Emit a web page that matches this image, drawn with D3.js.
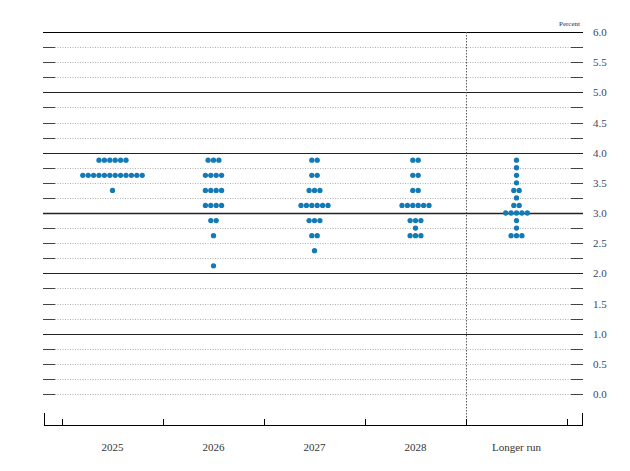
<!DOCTYPE html>
<meta charset="utf-8">
<style>
    body { margin: 0; background: #fff; }
    text { font-family: "Liberation Serif", "Times New Roman", serif; }
</style>
<svg width="630" height="471"></svg>
<script src="https://d3js.org/d3.v7.min.js"></script>
<script>

    // each entry: [midpoint of target range, number of participants]
    var categories = ["2025", "2026", "2027", "2028", "Longer run"];
    var dots2025 = [[3.875, 6], [3.625, 12], [3.375, 1]];
    var dots2026 = [[3.875, 3], [3.625, 4], [3.375, 4], [3.125, 4], [2.875, 2], [2.625, 1], [2.125, 1]];
    var dots2027 = [[3.875, 2], [3.625, 2], [3.375, 3], [3.125, 6], [2.875, 3], [2.625, 2], [2.375, 1]];
    var dots2028 = [[3.875, 2], [3.625, 2], [3.375, 2], [3.125, 6], [2.875, 3], [2.75, 1], [2.625, 3]];
    var dotsLonger = [[3.875, 1], [3.75, 1], [3.625, 1], [3.5, 1], [3.375, 2], [3.25, 1], [3.125, 2], [3.0, 5], [2.875, 1], [2.75, 1], [2.625, 3]];
    var yTicks = d3.range(0, 6.01, 0.5);
    var gridLevels = d3.range(0, 6.01, 0.25);

    var svg = d3.select("svg");
    var left = 43, right = 583, axisY = 425;

    var y = d3.scaleLinear().domain([0, 6]).range([394, 32]);
    var x = d3.scaleBand().domain(categories).range([62, 567]);

    var series = [dots2025, dots2026, dots2027, dots2028, dotsLonger];

    // horizontal grid
    var grid = svg.append("g");
    gridLevels.forEach(function (v) {
        var yy = Math.round(y(v)) + 0.5;
        var solid = Math.abs(v - Math.round(v)) < 1e-9 && v >= 1;
        if (solid) {
            grid.append("line")
                .attr("x1", left).attr("x2", right)
                .attr("y1", yy).attr("y2", yy)
                .attr("stroke", v === 6 ? "#000" : "#222")
                .attr("stroke-width", v === 3 ? 1.4 : 1);
        } else {
            grid.append("line")
                .attr("x1", left + 12).attr("x2", right - 12)
                .attr("y1", yy).attr("y2", yy)
                .attr("stroke", "#b0b0b0")
                .attr("stroke-dasharray", "1,1.5");
            grid.append("line")
                .attr("x1", left).attr("x2", left + 12)
                .attr("y1", yy).attr("y2", yy)
                .attr("stroke", "#444");
            grid.append("line")
                .attr("x1", right - 12).attr("x2", right)
                .attr("y1", yy).attr("y2", yy)
                .attr("stroke", "#444");
        }
    });

    // separator before longer run
    var sepX = Math.round(x("Longer run")) + 0.5;
    svg.append("line")
        .attr("x1", sepX).attr("x2", sepX)
        .attr("y1", y(6)).attr("y2", axisY)
        .attr("stroke", "#555")
        .attr("stroke-dasharray", "1.5,1.5");

    // right axis labels
    svg.append("g")
        .attr("transform", "translate(590,0)")
        .call(d3.axisRight(y).tickValues(yTicks).tickSize(0).tickFormat(d3.format(".1f")))
        .call(function (g) { g.select(".domain").remove(); })
        .selectAll("text")
        .attr("font-family", "Liberation Serif")
        .attr("font-size", 11)
        .attr("fill", "#3b4566");

    svg.append("text")
        .attr("x", 580).attr("y", 26)
        .attr("text-anchor", "end")
        .attr("font-size", 7)
        .attr("fill", "#1d2d5c")
        .text("Percent");

    // bottom axis
    var bottom = svg.append("g");
    bottom.append("line")
        .attr("x1", left + 1).attr("x2", right)
        .attr("y1", axisY + 0.5).attr("y2", axisY + 0.5)
        .attr("stroke", "#000");
    [left + 1.5, right - 0.5].forEach(function (xx) {
        bottom.append("line")
            .attr("x1", xx).attr("x2", xx)
            .attr("y1", axisY - 12).attr("y2", axisY + 0.5)
            .attr("stroke", "#000");
    });
    categories.concat([null]).forEach(function (c, i) {
        var xx = Math.round(i < categories.length ? x(c) : x.range()[1]) + 0.5;
        bottom.append("line")
            .attr("x1", xx).attr("x2", xx)
            .attr("y1", axisY - 6).attr("y2", axisY + 0.5)
            .attr("stroke", "#000");
    });
    svg.append("g")
        .attr("transform", "translate(0," + (axisY + 15) + ")")
        .call(d3.axisBottom(x).tickSize(0))
        .call(function (g) { g.select(".domain").remove(); })
        .selectAll("text")
        .attr("font-family", "Liberation Serif")
        .attr("font-size", 11)
        .attr("fill", "#333");

    // dots
    var step = 5.4;
    var dotData = [];
    series.forEach(function (rows, i) {
        var cx = x(categories[i]) + x.bandwidth() / 2;
        rows.forEach(function (r) {
            for (var k = 0; k < r[1]; k++) {
                dotData.push({ x: cx + (k - (r[1] - 1) / 2) * step, v: r[0] });
            }
        });
    });

    svg.append("g").selectAll("circle")
        .data(dotData)
        .enter().append("circle")
        .attr("cx", function (d) { return d.x; })
        .attr("cy", function (d) { return y(d.v); })
        .attr("r", 2.65)
        .attr("fill", "#127ab6");

</script>
